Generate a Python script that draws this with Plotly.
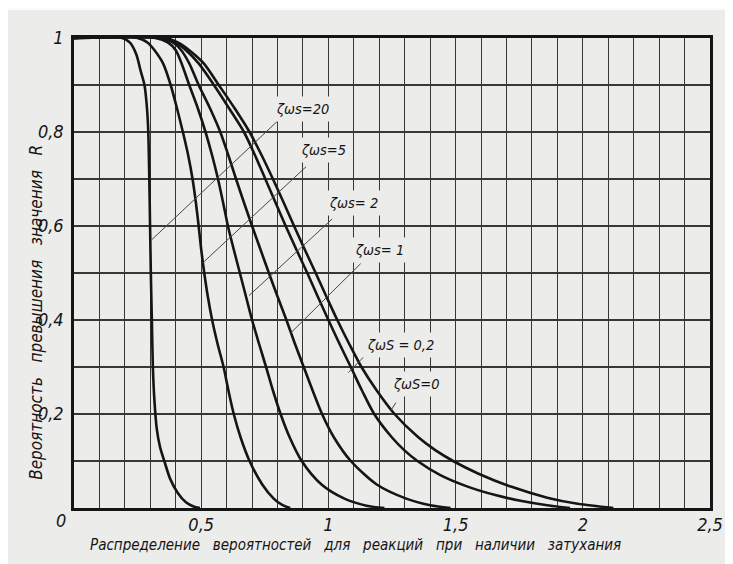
import plotly.graph_objects as go

# ---- data ----
curve_names = ["ζωs=20", "ζωs=5", "ζωs=2", "ζωs=1", "ζωs=0,2", "ζωs=0"]

x_20 = [0, 0.19, 0.22, 0.245, 0.262, 0.277, 0.287, 0.292, 0.296, 0.299, 0.302, 0.306, 0.31, 0.316, 0.325, 0.338, 0.355, 0.378, 0.408, 0.44, 0.47, 0.495]
y_20 = [1, 1, 0.99, 0.965, 0.93, 0.90, 0.85, 0.80, 0.70, 0.60, 0.50, 0.40, 0.30, 0.23, 0.17, 0.13, 0.10, 0.062, 0.032, 0.012, 0.003, 0]

x_5 = [0, 0.25, 0.29, 0.315, 0.35, 0.38, 0.405, 0.428, 0.449, 0.466, 0.479, 0.49, 0.50, 0.512, 0.526, 0.543, 0.564, 0.588, 0.607, 0.628, 0.655, 0.69, 0.74, 0.785, 0.82, 0.85]
y_5 = [1, 1, 0.99, 0.975, 0.946, 0.90, 0.85, 0.80, 0.75, 0.70, 0.65, 0.60, 0.55, 0.50, 0.45, 0.40, 0.35, 0.30, 0.25, 0.20, 0.15, 0.10, 0.05, 0.02, 0.006, 0]

x_2 = [0, 0.32, 0.37, 0.40, 0.42, 0.453, 0.487, 0.517, 0.543, 0.566, 0.586, 0.605, 0.628, 0.652, 0.676, 0.70, 0.727, 0.755, 0.782, 0.812, 0.848, 0.895, 0.973, 1.063, 1.15, 1.22]
y_2 = [1, 1, 0.99, 0.974, 0.95, 0.90, 0.85, 0.80, 0.75, 0.70, 0.65, 0.60, 0.55, 0.50, 0.45, 0.40, 0.35, 0.30, 0.25, 0.20, 0.15, 0.10, 0.05, 0.02, 0.005, 0]

x_1 = [0, 0.34, 0.39, 0.42, 0.453, 0.49, 0.535, 0.575, 0.607, 0.637, 0.668, 0.70, 0.733, 0.766, 0.80, 0.835, 0.868, 0.903, 0.938, 0.975, 1.022, 1.088, 1.19, 1.306, 1.40, 1.48]
y_1 = [1, 1, 0.99, 0.975, 0.946, 0.90, 0.85, 0.80, 0.75, 0.70, 0.65, 0.60, 0.55, 0.50, 0.45, 0.40, 0.35, 0.30, 0.25, 0.20, 0.15, 0.10, 0.05, 0.02, 0.006, 0]

x_02 = [0, 0.35, 0.40, 0.44, 0.49, 0.55, 0.61, 0.668, 0.712, 0.752, 0.792, 0.832, 0.874, 0.917, 0.958, 1.0, 1.043, 1.088, 1.132, 1.18, 1.25, 1.30, 1.35, 1.44, 1.55, 1.66, 1.76, 1.86, 1.95]
y_02 = [1, 1, 0.99, 0.974, 0.946, 0.90, 0.85, 0.80, 0.75, 0.70, 0.65, 0.60, 0.55, 0.50, 0.45, 0.40, 0.35, 0.30, 0.25, 0.20, 0.15, 0.122, 0.10, 0.07, 0.045, 0.027, 0.015, 0.006, 0]

x_0 = [0, 0.36, 0.41, 0.453, 0.51, 0.569, 0.632, 0.69, 0.738, 0.782, 0.824, 0.865, 0.907, 0.95, 0.992, 1.035, 1.081, 1.13, 1.19, 1.26, 1.35, 1.42, 1.49, 1.59, 1.72, 1.86, 1.98, 2.12]
y_0 = [1, 1, 0.99, 0.974, 0.946, 0.90, 0.85, 0.80, 0.75, 0.70, 0.65, 0.60, 0.55, 0.50, 0.45, 0.40, 0.35, 0.30, 0.25, 0.20, 0.152, 0.123, 0.10, 0.073, 0.045, 0.022, 0.009, 0]

curves_x = [x_20, x_5, x_2, x_1, x_02, x_0]
curves_y = [y_20, y_5, y_2, y_1, y_02, y_0]

# labels on the chart and their leader lines (data coordinates)
label_text = ["ζωs=20", "ζωs=5", "ζωs= 2", "ζωs= 1", "ζωS = 0,2", "ζωS=0"]
label_x = [0.897, 0.98, 1.10, 1.20, 1.283, 1.345]
label_y = [0.849, 0.762, 0.650, 0.549, 0.347, 0.264]
leader_x = [[0.825, 0.304], [0.912, 0.505], [1.015, 0.688], [1.127, 0.851], [1.147, 1.078], [1.265, 1.245]]
leader_y = [[0.836, 0.570], [0.726, 0.521], [0.615, 0.452], [0.520, 0.372], [0.326, 0.288], [0.224, 0.207]]

x_tickvals = [round(i * 0.1, 1) for i in range(26)]
x_ticktext = ["" for _ in x_tickvals]
for v, t in [(0.5, "0,5"), (1.0, "1"), (1.5, "1,5"), (2.0, "2"), (2.5, "2,5")]:
    x_ticktext[x_tickvals.index(v)] = t

y_tickvals = [round(i * 0.1, 1) for i in range(11)]
y_ticktext = ["" for _ in y_tickvals]
for v, t in [(0.2, "0,2"), (0.4, "0,4"), (0.6, "0,6"), (0.8, "0,8"), (1.0, "1")]:
    y_ticktext[y_tickvals.index(v)] = t

SP = "\u00a0\u00a0\u00a0"
x_title = SP.join(["Распределение", "вероятностей", "для", "реакций", "при", "наличии", "затухания"])
y_title = SP.join(["Вероятность", "превышения", "значения", "R"])

# ---- styling ----
FONT = "DejaVu Sans Condensed, DejaVu Sans, sans-serif"
BG = "#ececea"
INK = "#151515"
GRID = "#3a3733"

fig = go.Figure()

for i in range(len(curves_x)):
    fig.add_trace(go.Scatter(
        x=curves_x[i], y=curves_y[i], mode="lines", name=curve_names[i],
        line=dict(color=INK, width=2.6, shape="spline", smoothing=0.8),
        cliponaxis=False, hoverinfo="skip", showlegend=False))

for i in range(len(leader_x)):
    fig.add_trace(go.Scatter(
        x=leader_x[i], y=leader_y[i], mode="lines",
        line=dict(color="#4a4640", width=1), hoverinfo="skip", showlegend=False))

for i in range(len(label_text)):
    fig.add_annotation(
        x=label_x[i], y=label_y[i], text=label_text[i], showarrow=False,
        font=dict(family=FONT, size=14.5, color=INK, style="italic"),
        bgcolor=BG, borderpad=4, xanchor="center", yanchor="middle")

fig.add_annotation(xref="paper", yref="paper", x=0.4422, y=-0.079, text=x_title,
                   showarrow=False, xanchor="center", yanchor="middle",
                   font=dict(family=FONT, size=15, color=INK, style="italic"))
fig.add_annotation(xref="paper", yref="paper", x=-0.060, y=0.417, text=y_title,
                   showarrow=False, textangle=-90, xanchor="center", yanchor="middle",
                   font=dict(family=FONT, size=17, color=INK, style="italic"))
fig.add_annotation(xref="paper", yref="paper", x=-0.02, y=-0.026, text="0",
                   showarrow=False, xanchor="center", yanchor="middle",
                   font=dict(family=FONT, size=18, color=INK, style="italic"))

# thin white scan margin at the very top (the page margin supplies the rest)
fig.add_shape(type="rect", xref="paper", yref="paper", x0=-0.2, x1=1.1, y0=1.0596, y1=1.2,
              fillcolor="#fbfbfb", line=dict(width=0), layer="below")

fig.update_xaxes(range=[0, 2.5], tickmode="array", tickvals=x_tickvals, ticktext=x_ticktext,
                 showgrid=True, gridcolor=GRID, gridwidth=1.4, zeroline=False,
                 showline=True, linecolor=INK, linewidth=3, mirror=True, ticks="",
                 ticklabelstandoff=-2, ticklabeloverflow="allow",
                 tickfont=dict(family=FONT, size=18, color=INK, style="italic"))
fig.update_yaxes(range=[0, 1], tickmode="array", tickvals=y_tickvals, ticktext=y_ticktext,
                 showgrid=True, gridcolor=GRID, gridwidth=1.8, zeroline=False,
                 showline=True, linecolor=INK, linewidth=2.5, mirror=True, ticks="",
                 ticklabelstandoff=4, ticklabeloverflow="allow",
                 tickfont=dict(family=FONT, size=18, color=INK, style="italic"))

fig.update_layout(width=725, height=556, margin=dict(l=66, r=10, t=30, b=56),
                  paper_bgcolor=BG, plot_bgcolor=BG, showlegend=False)

fig.write_html("out.html")
